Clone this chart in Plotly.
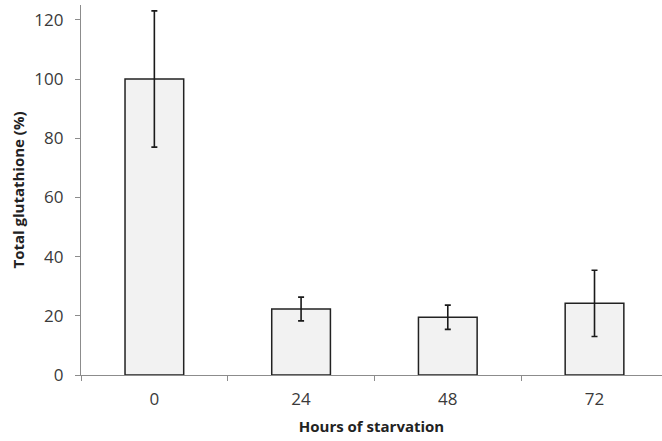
import plotly.graph_objects as go

categories = ["0", "24", "48", "72"]
values = [100, 22.3, 19.5, 24.2]
errors = [23, 4.0, 4.1, 11.2]
y_ticks = [0, 20, 40, 60, 80, 100, 120]

fig = go.Figure()
fig.add_trace(go.Bar(
    x=categories, y=values, width=0.4,
    marker=dict(color="#f2f2f2", line=dict(color="#222222", width=1.5)),
    error_y=dict(type="data", array=errors, visible=True, color="#1a1a1a", thickness=1.6, width=3),
))

font = "Open Sans, Liberation Sans, sans-serif"
fig.update_layout(
    width=662, height=441,
    margin=dict(l=81, r=0, t=5, b=66),
    plot_bgcolor="white", paper_bgcolor="white",
    showlegend=False,
    font=dict(family=font, size=15, color="#333333"),
    xaxis=dict(
        type="category", range=[-0.5, 3.46],
        showline=True, linecolor="#8c8c8c", linewidth=1.3,
        ticks="outside", tickson="boundaries", ticklen=5, tickcolor="#8c8c8c",
        ticklabelstandoff=8,
        tickfont=dict(size=17, color="#3a3a3a"),
        title=dict(text="<b>Hours of starvation</b>", font=dict(size=15, color="#222222"), standoff=12),
        showgrid=False,
    ),
    yaxis=dict(
        range=[0, 125], tickvals=y_ticks,
        showline=True, linecolor="#8c8c8c", linewidth=1.3,
        ticks="outside", ticklen=5, tickcolor="#8c8c8c",
        ticklabelstandoff=8,
        tickfont=dict(size=17, color="#3a3a3a"),
        title=dict(text="<b>Total glutathione (%)</b>", font=dict(size=15, color="#222222"), standoff=6),
        showgrid=False, zeroline=False,
    ),
)
fig.write_html("out.html")
